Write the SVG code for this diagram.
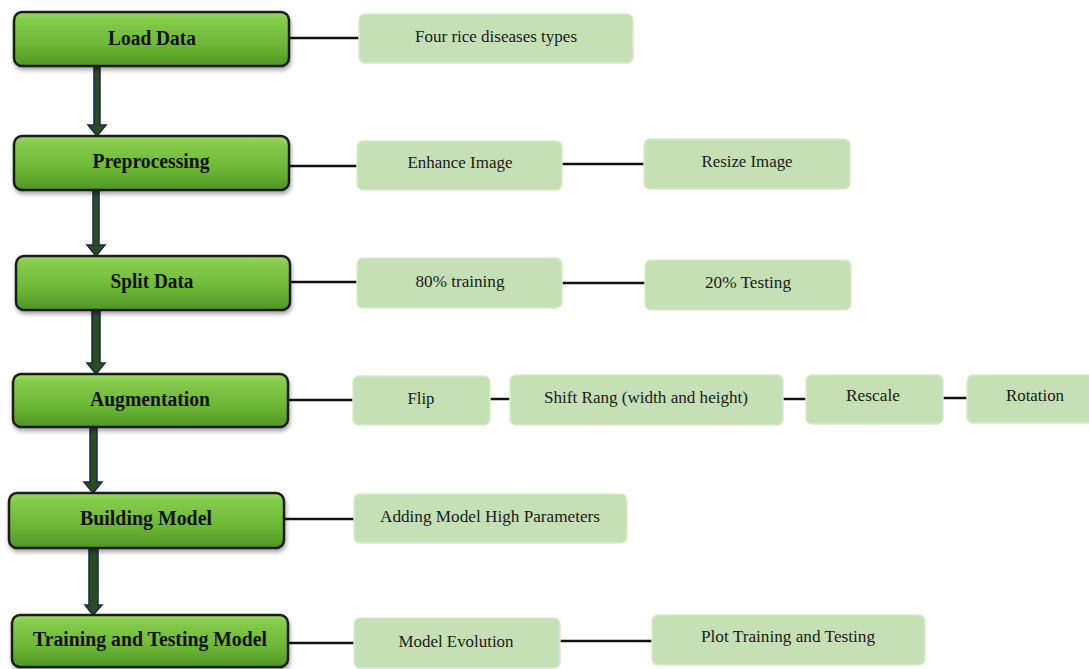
<svg xmlns="http://www.w3.org/2000/svg" width="1089" height="669" viewBox="0 0 1089 669">
<defs>
<linearGradient id="gg" x1="0" y1="0" x2="0" y2="1">
<stop offset="0" stop-color="#9bd765"/>
<stop offset="0.15" stop-color="#84cb4a"/>
<stop offset="0.6" stop-color="#6cb837"/>
<stop offset="1" stop-color="#4f9624"/>
</linearGradient>
<filter id="sh" x="-10%" y="-20%" width="120%" height="150%">
<feDropShadow dx="1" dy="3" stdDeviation="2" flood-color="#000" flood-opacity="0.35"/>
</filter>
<style>
.gb{fill:url(#gg);stroke:#1c1c1c;stroke-width:2.5;filter:url(#sh)}
.gt{font-family:"Liberation Serif","Times New Roman",serif;font-size:20px;font-weight:bold;fill:#111;text-anchor:middle}
.lb{fill:#c5e0b4;stroke:#d7ebcb;stroke-width:1.5}
.lt{font-family:"Liberation Serif","Times New Roman",serif;font-size:16px;fill:#1a1a1a;text-anchor:middle}
.cn{stroke:#111;stroke-width:2.5;fill:none}
.ar{fill:#2b4d22;stroke:#14294f;stroke-width:1.5}
</style>
</defs>
<rect width="1089" height="669" fill="#fff"/>
<g id="connectors">
<line class="cn" x1="289" y1="38" x2="359" y2="38"/>
<line class="cn" x1="289" y1="166" x2="357" y2="166"/>
<line class="cn" x1="562" y1="164" x2="644" y2="164"/>
<line class="cn" x1="290" y1="282" x2="357" y2="282"/>
<line class="cn" x1="562" y1="283" x2="645" y2="283"/>
<line class="cn" x1="288" y1="400" x2="353" y2="400"/>
<line class="cn" x1="490" y1="399" x2="510" y2="399"/>
<line class="cn" x1="783" y1="399" x2="806" y2="399"/>
<line class="cn" x1="943" y1="398" x2="967" y2="398"/>
<line class="cn" x1="284" y1="519" x2="354" y2="519"/>
<line class="cn" x1="288" y1="643" x2="354" y2="643"/>
<line class="cn" x1="560" y1="641" x2="652" y2="641"/>
<path class="ar" d="M94,67 H100 V125 H106 L97,136 L88,125 H94 Z"/>
<path class="ar" d="M93,191 H99 V245 H105 L96,256 L87,245 H93 Z"/>
<path class="ar" d="M92,311 H100 V363 H105 L96,374 L87,363 H92 Z"/>
<path class="ar" d="M90,428 H97 V482 H102 L93,493 L84,482 H90 Z"/>
<path class="ar" d="M89,549 H98 V605 H102 L93,615 L85,605 H89 Z"/>
</g>
<g id="load-data">
<rect class="gb" x="14" y="12" width="275" height="54" rx="8"/>
<text class="gt" x="152" y="45" textLength="88" lengthAdjust="spacingAndGlyphs">Load Data</text>
</g>
<g id="preprocessing">
<rect class="gb" x="14" y="136" width="275" height="54" rx="8"/>
<text class="gt" x="151" y="168" textLength="117" lengthAdjust="spacingAndGlyphs">Preprocessing</text>
</g>
<g id="split-data">
<rect class="gb" x="16" y="256" width="274" height="54" rx="8"/>
<text class="gt" x="152" y="288" textLength="83" lengthAdjust="spacingAndGlyphs">Split Data</text>
</g>
<g id="augmentation">
<rect class="gb" x="13" y="374" width="275" height="53" rx="8"/>
<text class="gt" x="150" y="406" textLength="120" lengthAdjust="spacingAndGlyphs">Augmentation</text>
</g>
<g id="building-model">
<rect class="gb" x="9" y="493" width="275" height="55" rx="8"/>
<text class="gt" x="146" y="525" textLength="132" lengthAdjust="spacingAndGlyphs">Building Model</text>
</g>
<g id="training-testing-model">
<rect class="gb" x="12" y="615" width="276" height="52" rx="8"/>
<text class="gt" x="150" y="646" textLength="234" lengthAdjust="spacingAndGlyphs">Training and Testing Model</text>
</g>
<g id="four-rice">
<rect class="lb" x="359" y="14" width="274" height="49" rx="6"/>
<text class="lt" x="496" y="42" textLength="162" lengthAdjust="spacingAndGlyphs">Four rice diseases types</text>
</g>
<g id="enhance-image">
<rect class="lb" x="357" y="141" width="205" height="49" rx="6"/>
<text class="lt" x="460" y="168" textLength="105" lengthAdjust="spacingAndGlyphs">Enhance Image</text>
</g>
<g id="resize-image">
<rect class="lb" x="644" y="139" width="206" height="50" rx="6"/>
<text class="lt" x="747" y="167" textLength="91" lengthAdjust="spacingAndGlyphs">Resize Image</text>
</g>
<g id="training-80">
<rect class="lb" x="357" y="258" width="205" height="50" rx="6"/>
<text class="lt" x="460" y="287" textLength="89" lengthAdjust="spacingAndGlyphs">80% training</text>
</g>
<g id="testing-20">
<rect class="lb" x="645" y="260" width="206" height="50" rx="6"/>
<text class="lt" x="748" y="288" textLength="86" lengthAdjust="spacingAndGlyphs">20% Testing</text>
</g>
<g id="flip">
<rect class="lb" x="353" y="376" width="137" height="49" rx="6"/>
<text class="lt" x="421" y="404" textLength="27" lengthAdjust="spacingAndGlyphs">Flip</text>
</g>
<g id="shift-rang">
<rect class="lb" x="510" y="375" width="273" height="50" rx="6"/>
<text class="lt" x="646" y="403" textLength="204" lengthAdjust="spacingAndGlyphs">Shift Rang (width and height)</text>
</g>
<g id="rescale">
<rect class="lb" x="806" y="375" width="137" height="49" rx="6"/>
<text class="lt" x="873" y="401" textLength="54" lengthAdjust="spacingAndGlyphs">Rescale</text>
</g>
<g id="rotation">
<rect class="lb" x="967" y="375" width="130" height="48" rx="6"/>
<text class="lt" x="1035" y="401" textLength="58" lengthAdjust="spacingAndGlyphs">Rotation</text>
</g>
<g id="adding-params">
<rect class="lb" x="354" y="494" width="273" height="49" rx="6"/>
<text class="lt" x="490" y="522" textLength="220" lengthAdjust="spacingAndGlyphs">Adding Model High Parameters</text>
</g>
<g id="model-evolution">
<rect class="lb" x="354" y="618" width="206" height="50" rx="6"/>
<text class="lt" x="456" y="647" textLength="115" lengthAdjust="spacingAndGlyphs">Model Evolution</text>
</g>
<g id="plot-training">
<rect class="lb" x="652" y="615" width="273" height="50" rx="6"/>
<text class="lt" x="788" y="642" textLength="174" lengthAdjust="spacingAndGlyphs">Plot Training and Testing</text>
</g>
</svg>
